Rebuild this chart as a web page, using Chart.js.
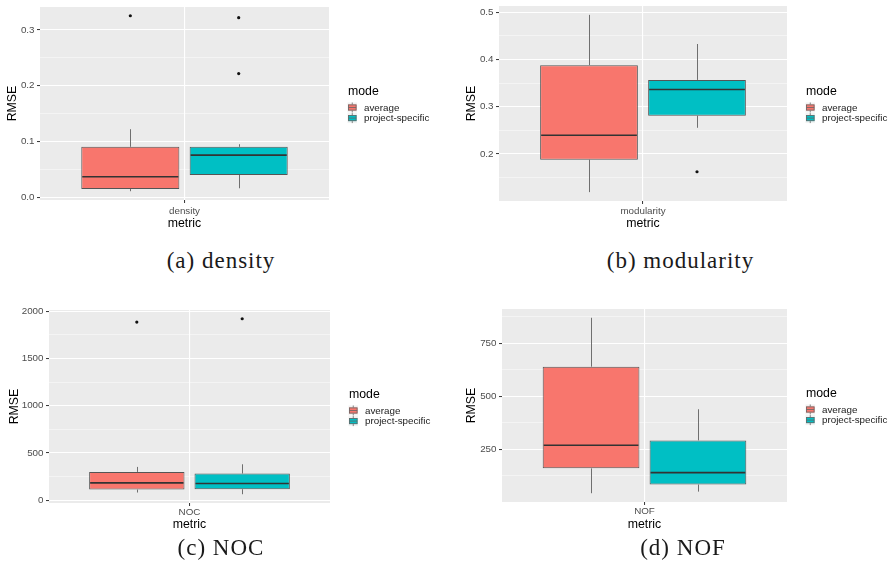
<!DOCTYPE html>
<html>
<head>
<meta charset="utf-8">
<script src="https://cdn.jsdelivr.net/npm/chart.js@4.4.1/dist/chart.umd.min.js"></script>
<style>
  html, body { margin: 0; padding: 0; background: #fff; width: 893px; height: 574px; overflow: hidden; position: relative; }
  canvas { position: absolute; }
  .cap { position: absolute; font-family: "Liberation Serif", "DejaVu Serif", serif; font-size: 23px; letter-spacing: 1px;
         color: #1a1a1a; white-space: nowrap; transform: translate(-50%, -50%); }
</style>
</head>
<body>
<script>
// ---------------- data ----------------
const metrics = ['density', 'modularity', 'NOC', 'NOF'];
const modes = ['average', 'project-specific'];
const modeColors = ['#F8766D', '#00BFC4'];
const captions = ['(a) density', '(b) modularity', '(c) NOC', '(d) NOF'];

// five-number summaries: [lower whisker, Q1, median, Q3, upper whisker]
const densityAverage  = [0.0107, 0.0148, 0.0368, 0.0904, 0.122];
const densityProject  = [0.016, 0.0398, 0.0755, 0.0904, 0.095];
const densityOutAverage = [0.3255];
const densityOutProject = [0.322, 0.2218];

const modularityAverage = [0.1191, 0.1879, 0.2396, 0.3879, 0.4943];
const modularityProject = [0.2553, 0.2809, 0.3362, 0.3566, 0.4326];
const modularityOutAverage = [];
const modularityOutProject = [0.1623];

const nocAverage = [81, 113, 183, 299, 352];
const nocProject = [63, 116, 176, 282, 380];
const nocOutAverage = [1885];
const nocOutProject = [1920];

const nofAverage = [42.5, 160, 269, 640, 871];
const nofProject = [50, 83.5, 140, 292, 439];
const nofOutAverage = [];
const nofOutProject = [];

// axis breaks
const densityTicks = [0, 0.1, 0.2, 0.3];
const densityTickLabels = ['0.0', '0.1', '0.2', '0.3'];
const densityMinor = [0.05, 0.15, 0.25];

const modularityTicks = [0.2, 0.3, 0.4, 0.5];
const modularityTickLabels = ['0.2', '0.3', '0.4', '0.5'];
const modularityMinor = [0.15, 0.25, 0.35, 0.45];

const nocTicks = [0, 500, 1000, 1500, 2000];
const nocTickLabels = ['0', '500', '1000', '1500', '2000'];
const nocMinor = [250, 750, 1250, 1750];

const nofTicks = [250, 500, 750];
const nofTickLabels = ['250', '500', '750'];
const nofMinor = [125, 375, 625, 875];

// ---------------- page layout ----------------
const panels = [
  { stats: [densityAverage, densityProject], outs: [densityOutAverage, densityOutProject],
    major: densityTicks, labels: densityTickLabels, minor: densityMinor,
    canvas: { x: 0, y: -10, w: 446, h: 250 }, plot: { l: 40, t: 7, r: 329, b: 200 },
    yTitleX: 12.5, xLabelY: 211.7, xTitleY: 224, cap: { x: 221, y: 261 } },
  { stats: [modularityAverage, modularityProject], outs: [modularityOutAverage, modularityOutProject],
    major: modularityTicks, labels: modularityTickLabels, minor: modularityMinor,
    canvas: { x: 446, y: -10, w: 447, h: 251 }, plot: { l: 499, t: 6, r: 787, b: 201 },
    yTitleX: 471.2, xLabelY: 211.7, xTitleY: 224, cap: { x: 680.5, y: 261 } },
  { stats: [nocAverage, nocProject], outs: [nocOutAverage, nocOutProject],
    major: nocTicks, labels: nocTickLabels, minor: nocMinor,
    canvas: { x: 0, y: 290, w: 446, h: 253 }, plot: { l: 49, t: 310, r: 330, b: 503 },
    yTitleX: 14.5, xLabelY: 511.7, xTitleY: 524.3, cap: { x: 221, y: 548 } },
  { stats: [nofAverage, nofProject], outs: [nofOutAverage, nofOutProject],
    major: nofTicks, labels: nofTickLabels, minor: nofMinor,
    canvas: { x: 446, y: 290, w: 447, h: 252 }, plot: { l: 502, t: 309, r: 787, b: 502 },
    yTitleX: 471.3, xLabelY: 511.7, xTitleY: 524.3, cap: { x: 683, y: 548 } }
];

const SANS = '"Liberation Sans", Arial, Helvetica, sans-serif';
const AXIS_TEXT = 9.8, TITLE_TEXT = 12.3, TICK_LEN = 3, X_AXIS_H = 40;

// grey panel behind the grid
const panelBackground = {
  id: 'panelBackground',
  beforeDraw(chart) {
    const { ctx, chartArea: a } = chart;
    ctx.save();
    ctx.fillStyle = '#EBEBEB';
    ctx.fillRect(a.left, a.top, a.right - a.left, a.bottom - a.top);
    ctx.restore();
  }
};

// whiskers, medians and outlying points on top of the Q1..Q3 bars
const boxDetails = {
  id: 'boxDetails',
  afterDatasetsDraw(chart) {
    const ctx = chart.ctx, ys = chart.scales.y;
    chart.data.datasets.forEach((ds, i) => {
      const bar = chart.getDatasetMeta(i).data[0];
      if (!bar) return;
      const [lo, q1, med, q3, hi] = ds.stats;
      const cx = Math.round(bar.x) + 0.5, half = bar.width / 2;
      ctx.save();
      ctx.strokeStyle = '#6f6f6f';
      ctx.lineWidth = 1;
      ctx.beginPath();
      ctx.moveTo(cx, ys.getPixelForValue(q3)); ctx.lineTo(cx, ys.getPixelForValue(hi));
      ctx.moveTo(cx, ys.getPixelForValue(q1)); ctx.lineTo(cx, ys.getPixelForValue(lo));
      ctx.stroke();
      ctx.strokeStyle = '#333333';
      ctx.lineWidth = 1.6;
      const my = ys.getPixelForValue(med);
      ctx.beginPath();
      ctx.moveTo(bar.x - half + 1, my); ctx.lineTo(bar.x + half - 1, my);
      ctx.stroke();
      ctx.fillStyle = '#111';
      ds.outliers.forEach(v => {
        ctx.beginPath();
        ctx.arc(bar.x, ys.getPixelForValue(v), 1.6, 0, Math.PI * 2);
        ctx.fill();
      });
      ctx.restore();
    });
  }
};

// "mode" legend with boxplot keys, to the right of the panel
const modeLegend = {
  id: 'modeLegend',
  afterDraw(chart) {
    const { ctx, chartArea: a } = chart;
    const x0 = a.right + 19, cy = (a.top + a.bottom) / 2;
    ctx.save();
    ctx.fillStyle = '#000';
    ctx.textBaseline = 'middle';
    ctx.textAlign = 'left';
    ctx.font = TITLE_TEXT + 'px ' + SANS;
    ctx.fillText('mode', x0, cy - 12);
    ctx.font = AXIS_TEXT + 'px ' + SANS;
    chart.data.datasets.forEach((ds, i) => {
      const ky = cy + 4 + i * 10.6;
      ctx.fillStyle = '#F2F2F2';
      ctx.fillRect(x0 - 0.5, ky - 5, 9.5, 10);
      ctx.fillStyle = ds.backgroundColor;
      ctx.fillRect(x0, ky - 3, 8.5, 6);
      ctx.strokeStyle = '#666';
      ctx.lineWidth = 0.8;
      ctx.strokeRect(x0 + 0.4, ky - 2.6, 7.7, 5.2);
      ctx.beginPath();
      ctx.moveTo(x0 + 4.25, ky - 5); ctx.lineTo(x0 + 4.25, ky - 3);
      ctx.moveTo(x0 + 4.25, ky + 3); ctx.lineTo(x0 + 4.25, ky + 5);
      ctx.moveTo(x0 + 0.4, ky); ctx.lineTo(x0 + 8.1, ky);
      ctx.stroke();
      ctx.fillStyle = '#1a1a1a';
      ctx.fillText(ds.label, a.right + 35, ky + 0.5);
    });
    ctx.restore();
  }
};

function allLow(p) {
  return Math.min(...p.stats.map(s => s[0]), ...p.outs.flat());
}
function allHigh(p) {
  return Math.max(...p.stats.map(s => s[4]), ...p.outs.flat());
}

panels.forEach((p, k) => {
  const cv = document.createElement('canvas');
  cv.width = p.canvas.w; cv.height = p.canvas.h;
  cv.style.left = p.canvas.x + 'px'; cv.style.top = p.canvas.y + 'px';
  cv.style.width = p.canvas.w + 'px'; cv.style.height = p.canvas.h + 'px';
  document.body.appendChild(cv);

  // ggplot-style 5% range expansion
  const lo = allLow(p), hi = allHigh(p), pad = (hi - lo) * 0.05;
  const isMajor = v => p.major.some(m => Math.abs(m - v) < 1e-9);
  const tickValues = p.major.concat(p.minor).sort((a, b) => a - b);

  const yWidth = p.plot.l - p.canvas.x;
  const padTop = p.plot.t - p.canvas.y;
  const padRight = p.canvas.w - (p.plot.r - p.canvas.x);
  const padBottom = (p.canvas.y + p.canvas.h) - (p.plot.b + X_AXIS_H);
  const xLineH = AXIS_TEXT * 1.2, tLineH = TITLE_TEXT * 1.2;
  const xTickPad = Math.max(0, p.xLabelY - p.plot.b - TICK_LEN - xLineH / 2);
  const xTitlePad = (p.plot.b + X_AXIS_H) - tLineH / 2 - p.xTitleY;
  const yTitlePad = (p.yTitleX - p.canvas.x) - tLineH / 2;

  new Chart(cv, {
    type: 'bar',
    data: {
      labels: [metrics[k]],
      datasets: modes.map((m, i) => ({
        label: m,
        data: [[p.stats[i][1], p.stats[i][3]]],
        stats: p.stats[i],
        outliers: p.outs[i],
        backgroundColor: modeColors[i],
        borderColor: '#555555',
        borderWidth: 1,
        borderSkipped: false,
        categoryPercentage: 0.75,
        barPercentage: 0.905
      }))
    },
    options: {
      responsive: false,
      animation: false,
      events: [],
      layout: { padding: { left: 0, top: padTop, right: padRight, bottom: padBottom } },
      plugins: { legend: { display: false }, tooltip: { enabled: false } },
      scales: {
        x: {
          type: 'category',
          offset: true,
          border: { display: false },
          grid: { offset: false, color: '#FFFFFF', lineWidth: 1.1, tickLength: TICK_LEN, tickColor: '#333333', tickWidth: 1 },
          ticks: { font: { family: SANS, size: AXIS_TEXT }, color: '#4D4D4D', padding: xTickPad },
          title: { display: true, text: 'metric', font: { family: SANS, size: TITLE_TEXT }, color: '#000',
                   padding: { top: 0, bottom: xTitlePad } },
          afterFit: s => { s.height = X_AXIS_H; }
        },
        y: {
          type: 'linear',
          min: lo - pad,
          max: hi + pad,
          border: { display: false },
          afterBuildTicks: s => { s.ticks = tickValues.map(v => ({ value: v })); },
          grid: {
            color: c => (c.tick && isMajor(c.tick.value)) ? '#FFFFFF' : 'rgba(255,255,255,0.8)',
            lineWidth: c => (c.tick && isMajor(c.tick.value)) ? 1.1 : 0.6,
            tickLength: TICK_LEN,
            tickWidth: 1,
            tickColor: c => (c.tick && isMajor(c.tick.value)) ? '#333333' : 'rgba(0,0,0,0)'
          },
          ticks: {
            autoSkip: false,
            font: { family: SANS, size: AXIS_TEXT },
            color: '#4D4D4D',
            padding: 2.5,
            callback: v => {
              const j = p.major.findIndex(m => Math.abs(m - v) < 1e-9);
              return j >= 0 ? p.labels[j] : '';
            }
          },
          title: { display: true, text: 'RMSE', font: { family: SANS, size: TITLE_TEXT }, color: '#000',
                   padding: { top: yTitlePad, bottom: 0 } },
          afterFit: s => { s.width = yWidth; }
        }
      }
    },
    plugins: [panelBackground, boxDetails, modeLegend]
  });

  const cap = document.createElement('div');
  cap.className = 'cap';
  cap.textContent = captions[k];
  cap.style.left = p.cap.x + 'px';
  cap.style.top = p.cap.y + 'px';
  document.body.appendChild(cap);
});
</script>
</body>
</html>
